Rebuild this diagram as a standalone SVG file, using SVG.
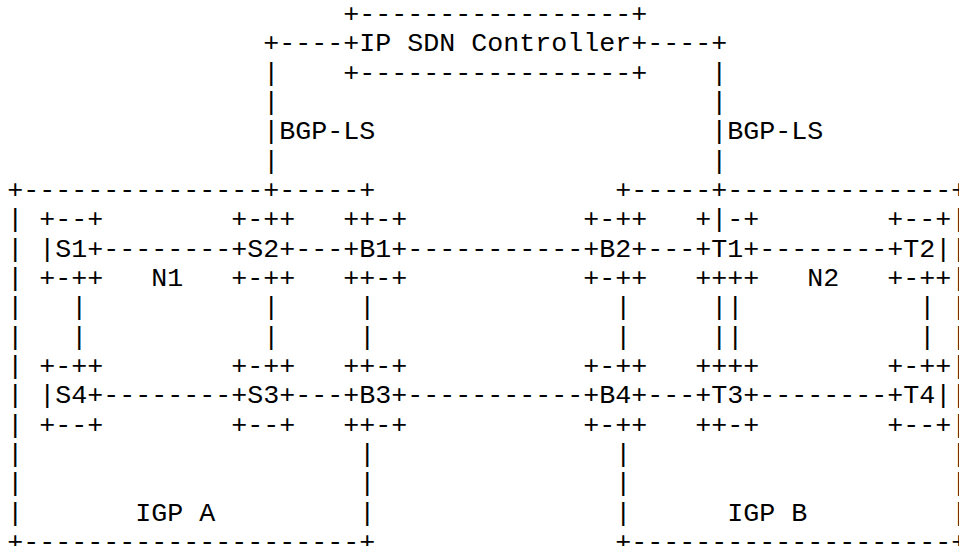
<svg xmlns="http://www.w3.org/2000/svg" width="959" height="546" viewBox="0 0 959 546">
<style>
text{font-family:"Liberation Mono","Courier New",monospace;font-size:26.667px;fill:#000;white-space:pre}
</style>
<rect width="959" height="546" fill="#fff"/>
<g id="controller">
<text x="343.3" y="22">+-----------------+</text>
<text x="343.3" y="51.33">+IP SDN Controller+</text>
<text x="343.3" y="80.67">+-----------------+</text>
</g>
<g id="igp-a">
<text x="7.3" y="198">+---------------+-----+</text>
<text><tspan x="7.3" y="227.33">|</tspan><tspan x="7.3" y="256.67">|</tspan><tspan x="7.3" y="286">|</tspan><tspan x="7.3" y="315.33">|</tspan><tspan x="7.3" y="344.67">|</tspan><tspan x="7.3" y="374">|</tspan><tspan x="7.3" y="403.33">|</tspan><tspan x="7.3" y="432.67">|</tspan><tspan x="7.3" y="462">|</tspan><tspan x="7.3" y="491.33">|</tspan><tspan x="7.3" y="520.67">|</tspan></text>
<text><tspan x="359.3" y="462">|</tspan><tspan x="359.3" y="491.33">|</tspan><tspan x="359.3" y="520.67">|</tspan></text>
<text x="135.3" y="520.67">IGP A</text>
<text x="7.3" y="550">+---------------------+</text>
</g>
<g id="igp-b">
<text x="615.3" y="198">+-----+--------------+</text>
<text><tspan x="951.3" y="227.33">|</tspan><tspan x="951.3" y="256.67">|</tspan><tspan x="951.3" y="286">|</tspan><tspan x="951.3" y="315.33">|</tspan><tspan x="951.3" y="344.67">|</tspan><tspan x="951.3" y="374">|</tspan><tspan x="951.3" y="403.33">|</tspan><tspan x="951.3" y="432.67">|</tspan><tspan x="951.3" y="462">|</tspan><tspan x="951.3" y="491.33">|</tspan><tspan x="951.3" y="520.67">|</tspan></text>
<text><tspan x="615.3" y="462">|</tspan><tspan x="615.3" y="491.33">|</tspan><tspan x="615.3" y="520.67">|</tspan></text>
<text x="727.3" y="520.67">IGP B</text>
<text x="615.3" y="550">+--------------------+</text>
</g>
<g id="n1"><text x="151.3" y="286">N1</text></g>
<g id="n2"><text x="807.3" y="286">N2</text></g>
<g id="s1"><text x="39.3" y="227.33">+--+</text><text x="39.3" y="256.67">|S1+</text><text x="39.3" y="286">+-++</text></g>
<g id="s2"><text x="231.3" y="227.33">+-++</text><text x="231.3" y="256.67">+S2+</text><text x="231.3" y="286">+-++</text></g>
<g id="b1"><text x="343.3" y="227.33">++-+</text><text x="343.3" y="256.67">+B1+</text><text x="343.3" y="286">++-+</text></g>
<g id="b2"><text x="583.3" y="227.33">+-++</text><text x="583.3" y="256.67">+B2+</text><text x="583.3" y="286">+-++</text></g>
<g id="t1"><text x="695.3" y="227.33">+|-+</text><text x="695.3" y="256.67">+T1+</text><text x="695.3" y="286">++++</text></g>
<g id="t2"><text x="887.3" y="227.33">+--+</text><text x="887.3" y="256.67">+T2|</text><text x="887.3" y="286">+-++</text></g>
<g id="s4"><text x="39.3" y="374">+-++</text><text x="39.3" y="403.33">|S4+</text><text x="39.3" y="432.67">+--+</text></g>
<g id="s3"><text x="231.3" y="374">+-++</text><text x="231.3" y="403.33">+S3+</text><text x="231.3" y="432.67">+--+</text></g>
<g id="b3"><text x="343.3" y="374">++-+</text><text x="343.3" y="403.33">+B3+</text><text x="343.3" y="432.67">++-+</text></g>
<g id="b4"><text x="583.3" y="374">+-++</text><text x="583.3" y="403.33">+B4+</text><text x="583.3" y="432.67">+-++</text></g>
<g id="t3"><text x="695.3" y="374">++++</text><text x="695.3" y="403.33">+T3+</text><text x="695.3" y="432.67">++-+</text></g>
<g id="t4"><text x="887.3" y="374">+-++</text><text x="887.3" y="403.33">+T4|</text><text x="887.3" y="432.67">+--+</text></g>
<g id="connectors">
<text x="263.3" y="51.33">+----</text>
<text><tspan x="263.3" y="80.67">|</tspan><tspan x="263.3" y="110">|</tspan><tspan x="263.3" y="168.67">|</tspan></text>
<text x="263.3" y="139.33">|BGP-LS</text>
<text x="647.3" y="51.33">----+</text>
<text><tspan x="711.3" y="80.67">|</tspan><tspan x="711.3" y="110">|</tspan><tspan x="711.3" y="168.67">|</tspan></text>
<text x="711.3" y="139.33">|BGP-LS</text>
<text x="103.3" y="256.67">--------</text>
<text x="295.3" y="256.67">---</text>
<text x="407.3" y="256.67">-----------</text>
<text x="647.3" y="256.67">---</text>
<text x="759.3" y="256.67">--------</text>
<text x="103.3" y="403.33">--------</text>
<text x="295.3" y="403.33">---</text>
<text x="407.3" y="403.33">-----------</text>
<text x="647.3" y="403.33">---</text>
<text x="759.3" y="403.33">--------</text>
<text><tspan x="71.3" y="315.33">|</tspan><tspan x="71.3" y="344.67">|</tspan></text>
<text><tspan x="263.3" y="315.33">|</tspan><tspan x="263.3" y="344.67">|</tspan></text>
<text><tspan x="359.3" y="315.33">|</tspan><tspan x="359.3" y="344.67">|</tspan></text>
<text><tspan x="615.3" y="315.33">|</tspan><tspan x="615.3" y="344.67">|</tspan></text>
<text><tspan x="711.3" y="315.33">|</tspan><tspan x="711.3" y="344.67">|</tspan></text>
<text><tspan x="727.3" y="315.33">|</tspan><tspan x="727.3" y="344.67">|</tspan></text>
<text><tspan x="919.3" y="315.33">|</tspan><tspan x="919.3" y="344.67">|</tspan></text>
</g>
</svg>
